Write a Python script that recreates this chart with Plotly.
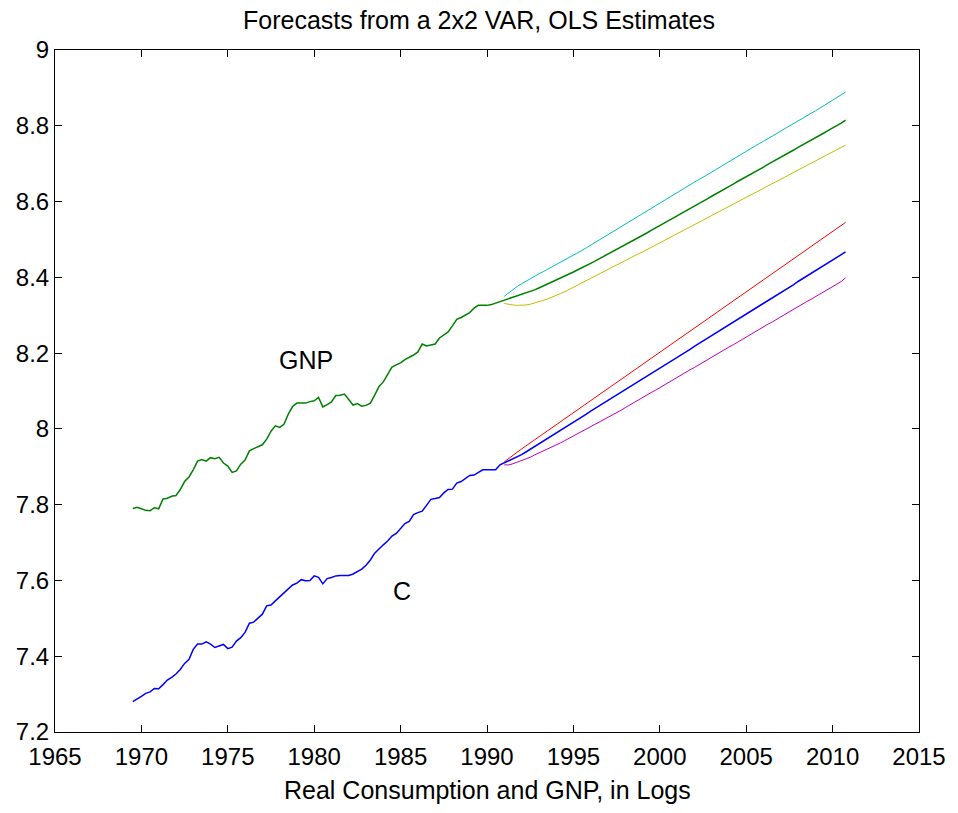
import numpy as np
import plotly.graph_objects as go

# ---------------- data ----------------
hist_start = 1969.5          # 1969Q3
fc_start = 1991.0            # 1991Q1

gnp_hist = [7.790, 7.793, 7.789, 7.785, 7.784, 7.792, 7.789, 7.815, 7.817, 7.822,
            7.824, 7.840, 7.861, 7.873, 7.892, 7.915, 7.919, 7.915, 7.924, 7.921,
            7.925, 7.910, 7.902, 7.885, 7.889, 7.907, 7.918, 7.942, 7.948, 7.954,
            7.958, 7.973, 7.994, 8.008, 8.004, 8.012, 8.039, 8.059, 8.068, 8.068,
            8.068, 8.072, 8.074, 8.083, 8.058, 8.064, 8.071, 8.088, 8.089, 8.092,
            8.076, 8.063, 8.067, 8.060, 8.062, 8.068, 8.089, 8.112, 8.124, 8.145,
            8.163, 8.169, 8.174, 8.183, 8.188, 8.195, 8.203, 8.224, 8.219, 8.221,
            8.224, 8.240, 8.247, 8.256, 8.272, 8.289, 8.294, 8.301, 8.307, 8.319,
            8.326, 8.326, 8.326, 8.328, 8.332, 8.334]

c_hist = [7.280, 7.286, 7.294, 7.302, 7.306, 7.315, 7.314, 7.325, 7.337, 7.344,
          7.353, 7.365, 7.381, 7.391, 7.418, 7.432, 7.432, 7.438, 7.432, 7.423,
          7.427, 7.431, 7.420, 7.424, 7.440, 7.449, 7.463, 7.487, 7.490, 7.501,
          7.511, 7.533, 7.535, 7.546, 7.556, 7.566, 7.577, 7.588, 7.593, 7.602,
          7.599, 7.600, 7.612, 7.608, 7.591, 7.605, 7.608, 7.612, 7.613, 7.613,
          7.613, 7.617, 7.624, 7.630, 7.640, 7.654, 7.672, 7.684, 7.694, 7.704,
          7.717, 7.724, 7.736, 7.750, 7.756, 7.774, 7.779, 7.783, 7.798, 7.814,
          7.816, 7.819, 7.831, 7.840, 7.841, 7.857, 7.861, 7.868, 7.877, 7.878,
          7.884, 7.892, 7.892, 7.892, 7.892, 7.905]

gnp_fc = [8.338, 8.342, 8.346, 8.350, 8.354, 8.358, 8.363, 8.367, 8.372, 8.377,
          8.382, 8.387, 8.392, 8.397, 8.403, 8.408, 8.414, 8.420, 8.425, 8.431,
          8.437, 8.443, 8.449, 8.455, 8.461, 8.467, 8.473, 8.479, 8.485, 8.491,
          8.498, 8.504, 8.511, 8.517, 8.524, 8.530, 8.537, 8.543, 8.549, 8.556,
          8.562, 8.569, 8.575, 8.582, 8.588, 8.595, 8.601, 8.607, 8.614, 8.620,
          8.627, 8.633, 8.640, 8.646, 8.653, 8.659, 8.665, 8.672, 8.678, 8.685,
          8.691, 8.698, 8.704, 8.711, 8.717, 8.723, 8.730, 8.736, 8.743, 8.749,
          8.756, 8.762, 8.768, 8.775, 8.781, 8.788, 8.794, 8.801, 8.807, 8.815]

gnp_up = [8.350, 8.359, 8.368, 8.376, 8.383, 8.390, 8.397, 8.403, 8.409, 8.415,
          8.421, 8.427, 8.433, 8.439, 8.445, 8.451, 8.458, 8.465, 8.471, 8.478,
          8.485, 8.492, 8.499, 8.505, 8.512, 8.519, 8.526, 8.533, 8.540, 8.546,
          8.554, 8.560, 8.568, 8.574, 8.582, 8.588, 8.596, 8.602, 8.609, 8.616,
          8.623, 8.630, 8.637, 8.644, 8.651, 8.658, 8.664, 8.671, 8.678, 8.684,
          8.692, 8.698, 8.706, 8.712, 8.719, 8.726, 8.732, 8.739, 8.746, 8.753,
          8.759, 8.766, 8.773, 8.780, 8.786, 8.792, 8.800, 8.806, 8.813, 8.819,
          8.827, 8.833, 8.839, 8.846, 8.853, 8.860, 8.866, 8.873, 8.880, 8.889]

gnp_lo = [8.331, 8.328, 8.327, 8.326, 8.326, 8.327, 8.329, 8.332, 8.335, 8.339,
          8.343, 8.347, 8.352, 8.357, 8.362, 8.368, 8.373, 8.379, 8.385, 8.391,
          8.397, 8.402, 8.408, 8.414, 8.420, 8.426, 8.432, 8.438, 8.444, 8.450,
          8.456, 8.462, 8.467, 8.473, 8.479, 8.485, 8.491, 8.497, 8.503, 8.509,
          8.515, 8.521, 8.527, 8.533, 8.539, 8.545, 8.551, 8.557, 8.563, 8.569,
          8.575, 8.581, 8.587, 8.593, 8.599, 8.605, 8.611, 8.617, 8.623, 8.629,
          8.635, 8.641, 8.647, 8.653, 8.659, 8.665, 8.671, 8.677, 8.683, 8.689,
          8.695, 8.701, 8.707, 8.713, 8.719, 8.725, 8.731, 8.737, 8.743, 8.749]

c_fc = [7.910, 7.915, 7.921, 7.926, 7.932, 7.939, 7.946, 7.953, 7.960, 7.968,
        7.975, 7.983, 7.990, 7.997, 8.004, 8.011, 8.018, 8.025, 8.032, 8.039,
        8.047, 8.054, 8.061, 8.068, 8.075, 8.082, 8.089, 8.096, 8.104, 8.111,
        8.118, 8.125, 8.132, 8.139, 8.146, 8.153, 8.161, 8.168, 8.175, 8.182,
        8.189, 8.196, 8.203, 8.210, 8.218, 8.225, 8.232, 8.239, 8.246, 8.253,
        8.260, 8.267, 8.275, 8.282, 8.289, 8.296, 8.303, 8.310, 8.317, 8.324,
        8.332, 8.339, 8.346, 8.353, 8.360, 8.367, 8.374, 8.381, 8.389, 8.396,
        8.403, 8.410, 8.417, 8.424, 8.431, 8.438, 8.446, 8.453, 8.460, 8.467]

c_up = [7.913, 7.922, 7.931, 7.939, 7.947, 7.955, 7.963, 7.971, 7.979, 7.987,
        7.995, 8.003, 8.011, 8.019, 8.027, 8.035, 8.043, 8.051, 8.059, 8.067,
        8.075, 8.083, 8.091, 8.099, 8.107, 8.114, 8.122, 8.130, 8.138, 8.146,
        8.154, 8.162, 8.170, 8.177, 8.185, 8.193, 8.201, 8.209, 8.217, 8.225,
        8.233, 8.241, 8.249, 8.257, 8.265, 8.273, 8.281, 8.289, 8.297, 8.305,
        8.313, 8.321, 8.329, 8.337, 8.345, 8.353, 8.361, 8.369, 8.377, 8.385,
        8.393, 8.401, 8.409, 8.417, 8.425, 8.433, 8.441, 8.449, 8.457, 8.465,
        8.473, 8.481, 8.489, 8.497, 8.505, 8.513, 8.521, 8.529, 8.537, 8.545]

c_lo = [7.905, 7.905, 7.908, 7.912, 7.916, 7.920, 7.925, 7.931, 7.936, 7.942,
        7.947, 7.953, 7.958, 7.963, 7.969, 7.975, 7.981, 7.987, 7.993, 7.999,
        8.005, 8.011, 8.017, 8.023, 8.030, 8.036, 8.043, 8.049, 8.056, 8.063,
        8.069, 8.076, 8.082, 8.089, 8.096, 8.102, 8.109, 8.116, 8.122, 8.129,
        8.136, 8.142, 8.149, 8.156, 8.162, 8.169, 8.176, 8.182, 8.189, 8.196,
        8.202, 8.209, 8.216, 8.222, 8.229, 8.236, 8.242, 8.249, 8.256, 8.262,
        8.269, 8.276, 8.282, 8.289, 8.296, 8.302, 8.309, 8.316, 8.322, 8.329,
        8.336, 8.342, 8.349, 8.356, 8.362, 8.369, 8.376, 8.382, 8.389, 8.399]

x_ticks = [1965, 1970, 1975, 1980, 1985, 1990, 1995, 2000, 2005, 2010, 2015]
y_ticks = [7.2, 7.4, 7.6, 7.8, 8.0, 8.2, 8.4, 8.6, 8.8, 9.0]
y_tick_labels = ["7.2", "7.4", "7.6", "7.8", "8", "8.2", "8.4", "8.6", "8.8", "9"]

# ---------------- figure ----------------
t_hist = hist_start + 0.25 * np.arange(len(c_hist))
t_fc = fc_start + 0.25 * np.arange(len(c_fc))
t_main = np.concatenate([t_hist, t_fc])

FONT = "Liberation Sans, Arial, Helvetica, sans-serif"

fig = go.Figure()
fig.add_trace(go.Scatter(x=t_fc, y=gnp_up, mode="lines", line=dict(color="#00BFBF", width=1)))
fig.add_trace(go.Scatter(x=t_fc, y=gnp_lo, mode="lines", line=dict(color="#BFBF00", width=1)))
fig.add_trace(go.Scatter(x=t_fc, y=c_up, mode="lines", line=dict(color="#FF0000", width=1)))
fig.add_trace(go.Scatter(x=t_fc, y=c_lo, mode="lines", line=dict(color="#BF00BF", width=1)))
fig.add_trace(go.Scatter(x=t_main, y=list(gnp_hist) + list(gnp_fc), mode="lines",
                         line=dict(color="#008000", width=1.5)))
fig.add_trace(go.Scatter(x=t_main, y=list(c_hist) + list(c_fc), mode="lines",
                         line=dict(color="#0000FF", width=1.5)))

fig.add_annotation(x=1979.5, y=8.182, text="GNP", showarrow=False,
                   font=dict(size=25, color="black", family=FONT))
fig.add_annotation(x=1985.1, y=7.572, text="C", showarrow=False,
                   font=dict(size=25, color="black", family=FONT))
fig.add_annotation(x=0.5, y=0, xref="paper", yref="paper", yanchor="middle",
                   yshift=-58, text="Real Consumption and GNP, in Logs", showarrow=False,
                   font=dict(size=25, color="black", family=FONT))

axis_common = dict(showline=True, linecolor="black", linewidth=1, mirror="ticks",
                   ticks="inside", ticklen=7, tickcolor="black", showgrid=False,
                   zeroline=False, tickfont=dict(size=24, color="black", family=FONT))

fig.update_layout(
    width=958, height=813,
    margin=dict(l=55, r=36, t=50, b=81),
    paper_bgcolor="white", plot_bgcolor="white",
    showlegend=False,
    title=dict(text="Forecasts from a 2x2 VAR, OLS Estimates", x=0.5, xanchor="center",
               y=1 - 20 / 813, yref="container", yanchor="middle",
               font=dict(size=25, color="black", family=FONT)),
    xaxis=dict(range=[1965, 2015], tickvals=x_ticks, ticktext=[str(v) for v in x_ticks],
               ticklabelstandoff=3, **axis_common),
    yaxis=dict(range=[7.2, 9.0], tickvals=y_ticks, ticktext=y_tick_labels, **axis_common),
)

fig.write_html("out.html")
